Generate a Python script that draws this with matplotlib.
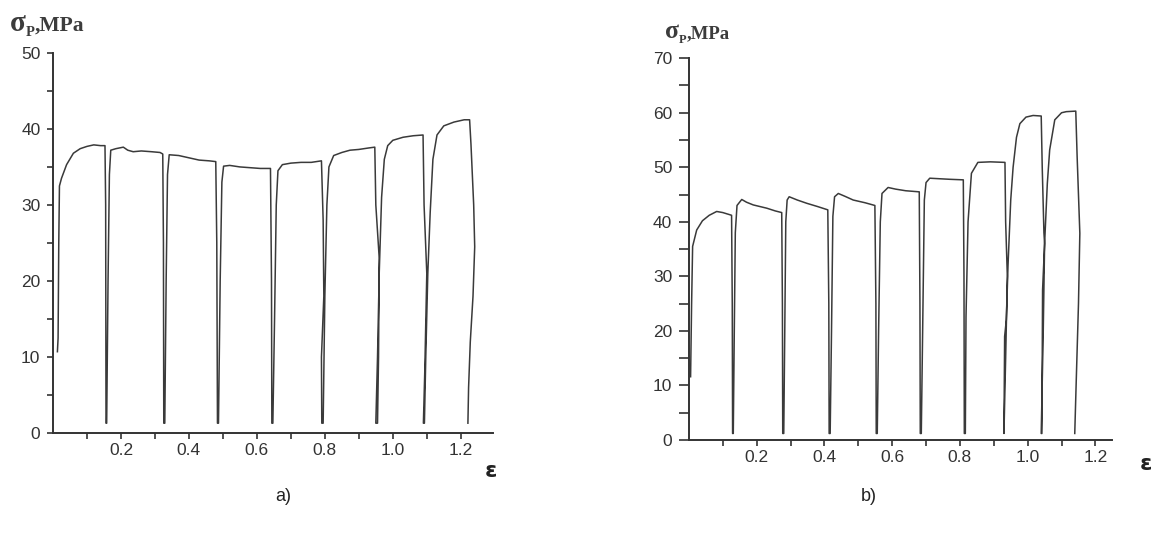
import matplotlib
matplotlib.use("Agg")
import matplotlib.pyplot as plt
from matplotlib.ticker import MultipleLocator, FixedLocator

# ---- traced data: panel a) ----
eps_a = [0.013, 0.015, 0.017, 0.019, 0.025, 0.04, 0.06, 0.08, 0.10, 0.12, 0.14, 0.153,
         0.155, 0.156,
         0.158, 0.162, 0.166, 0.17, 0.185, 0.207, 0.22, 0.236, 0.26, 0.29, 0.315, 0.323,
         0.325, 0.326,
         0.329, 0.333, 0.337, 0.342, 0.37, 0.40, 0.43, 0.46, 0.479,
         0.482, 0.484,
         0.487, 0.492, 0.497, 0.502, 0.52, 0.55, 0.58, 0.61, 0.64,
         0.643, 0.644,
         0.647, 0.652, 0.657, 0.662, 0.675, 0.70, 0.73, 0.76, 0.79,
         0.795, 0.797, 0.79, 0.791,
         0.795, 0.80, 0.806, 0.812, 0.826, 0.85, 0.874, 0.90, 0.93, 0.947,
         0.95, 0.96, 0.958, 0.955,
         0.95, 0.955, 0.96, 0.967, 0.975, 0.985, 1.0, 1.03, 1.06, 1.089,
         1.092, 1.10, 1.094, 1.09,
         1.093, 1.097, 1.103, 1.11, 1.118, 1.13, 1.15, 1.18, 1.21, 1.226,
         1.23, 1.238, 1.241, 1.236, 1.228, 1.223, 1.221]
sig_a = [10.7, 12.5, 25.0, 32.5, 33.5, 35.3, 36.8, 37.4, 37.7, 37.9, 37.8, 37.8,
         30.0, 1.3,
         1.3, 20.0, 34.0, 37.2, 37.4, 37.6, 37.2, 37.0, 37.1, 37.0, 36.9, 36.7,
         25.0, 1.3,
         1.3, 20.0, 34.0, 36.6, 36.5, 36.2, 35.9, 35.8, 35.7,
         25.0, 1.3,
         1.3, 20.0, 33.0, 35.1, 35.2, 35.0, 34.9, 34.8, 34.8,
         20.0, 1.3,
         1.3, 15.0, 30.0, 34.5, 35.3, 35.5, 35.6, 35.6, 35.8,
         28.0, 18.0, 10.0, 1.3,
         1.3, 18.0, 30.0, 35.0, 36.5, 36.9, 37.2, 37.3, 37.5, 37.6,
         30.0, 23.0, 10.0, 1.3,
         1.3, 10.0, 21.0, 31.0, 36.0, 37.8, 38.5, 38.9, 39.1, 39.2,
         30.0, 21.0, 8.0, 1.3,
         1.3, 10.0, 21.0, 29.0, 36.0, 39.2, 40.4, 40.9, 41.2, 41.2,
         38.0, 30.0, 24.5, 18.0, 12.0, 6.0, 1.3]

# ---- traced data: panel b) ----
eps_b = [0.005, 0.008, 0.011, 0.023, 0.04, 0.06, 0.082, 0.10, 0.121, 0.126,
         0.128, 0.129,
         0.131, 0.134, 0.137, 0.142, 0.156, 0.17, 0.19, 0.21, 0.23, 0.255, 0.274,
         0.276, 0.277,
         0.280, 0.283, 0.286, 0.290, 0.296, 0.32, 0.348, 0.38, 0.41,
         0.413, 0.414,
         0.417, 0.421, 0.425, 0.43, 0.441, 0.46, 0.485, 0.52, 0.549,
         0.552, 0.553,
         0.556, 0.56, 0.565, 0.57, 0.588, 0.61, 0.64, 0.68,
         0.682, 0.683,
         0.686, 0.690, 0.695, 0.70, 0.711, 0.74, 0.77, 0.81,
         0.812, 0.813,
         0.816, 0.818, 0.824, 0.834, 0.853, 0.89, 0.933,
         0.935, 0.94, 0.935, 0.93,
         0.93, 0.932, 0.937, 0.942, 0.95, 0.957, 0.967, 0.977, 0.995, 1.016, 1.04,
         1.043, 1.048, 1.05, 1.046, 1.04,
         1.042, 1.044, 1.05, 1.058, 1.065, 1.08, 1.10, 1.114, 1.142,
         1.146, 1.154, 1.15, 1.143, 1.139]
sig_b = [11.6, 25.0, 35.5, 38.5, 40.2, 41.2, 41.9, 41.7, 41.3, 41.2,
         25.0, 1.2,
         1.2, 20.0, 38.0, 43.0, 44.1, 43.6, 43.1, 42.8, 42.5, 42.0, 41.7,
         25.0, 1.2,
         1.2, 20.0, 40.0, 44.0, 44.6, 44.0, 43.4, 42.8, 42.2,
         25.0, 1.2,
         1.2, 20.0, 41.0, 44.6, 45.2, 44.7, 44.0, 43.5, 43.0,
         25.0, 1.2,
         1.2, 20.0, 40.0, 45.2, 46.3, 46.0, 45.7, 45.5,
         25.0, 1.2,
         1.2, 20.0, 44.0, 47.2, 48.0, 47.9, 47.8, 47.7,
         30.0, 1.2,
         1.2, 22.6, 40.0, 48.9, 50.9, 51.0, 50.9,
         40.0, 30.0, 15.0, 1.2,
         1.2, 19.0, 22.0, 32.0, 44.0, 50.0, 55.5, 58.0, 59.2, 59.5, 59.4,
         50.0, 38.0, 36.0, 20.0, 1.2,
         1.2, 27.5, 36.0, 47.0, 53.2, 58.7, 60.0, 60.2, 60.3,
         52.0, 37.9, 25.0, 10.0, 1.2]

xticks_major = [0.2, 0.4, 0.6, 0.8, 1.0, 1.2]
xtick_labels = ["0.2", "0.4", "0.6", "0.8", "1.0", "1.2"]
captions = ["a)", "b)"]
ylabel_parts = ["σ", "P", ",MPa"]
xlabel = "ε"

fig = plt.figure(figsize=(11.52, 5.34), dpi=100)

axa = fig.add_axes([0.046, 0.189, 0.382, 0.712])
axb = fig.add_axes([0.598, 0.176, 0.367, 0.715])

specs = [
    (axa, eps_a, sig_a, 1.295, 50, 4),
    (axb, eps_b, sig_b, 1.248, 70, 7),
]
for ax, ex, sy, xmax, ymax, tl in specs:
    ax.plot(ex, sy, color='#3a3a3a', lw=1.1)
    ax.set_xlim(0, xmax)
    ax.set_ylim(0, ymax)
    for s in ['top', 'right']:
        ax.spines[s].set_visible(False)
    for s in ['left', 'bottom']:
        ax.spines[s].set_color('#333333')
        ax.spines[s].set_linewidth(1.4)
    ax.xaxis.set_major_locator(FixedLocator(xticks_major))
    ax.set_xticklabels(xtick_labels)
    ax.xaxis.set_minor_locator(FixedLocator([0.1, 0.3, 0.5, 0.7, 0.9, 1.1]))
    ax.yaxis.set_major_locator(MultipleLocator(10))
    ax.yaxis.set_minor_locator(MultipleLocator(5))
    ax.tick_params(axis='both', which='both', direction='out', color='#333333',
                   width=1.2, labelsize=12.5, labelcolor='#333333')
    ax.tick_params(axis='x', which='both', length=4, pad=3)
    ax.tick_params(axis='y', which='both', length=tl, pad=5)
    for lab in ax.get_xticklabels() + ax.get_yticklabels():
        lab.set_family('Liberation Sans')
    ax.set_facecolor('white')

fig.canvas.draw()
renderer = fig.canvas.get_renderer()


def compose_label(x_px, y_px, s1, s2, s3):
    # y_px: baseline position in pixels from top
    yb = 1 - y_px / 534.0
    t1 = fig.text(x_px / 1152.0, yb, ylabel_parts[0], fontsize=s1, family='Liberation Serif',
                  fontweight='bold', color='#3c3c3c', ha='left', va='baseline')
    bb = t1.get_window_extent(renderer)
    x2 = bb.x1 / 1152.0
    t2 = fig.text(x2, yb - 0.009, ylabel_parts[1], fontsize=s2, family='Liberation Serif',
                  fontweight='bold', color='#3c3c3c', ha='left', va='baseline')
    bb2 = t2.get_window_extent(renderer)
    x3 = bb2.x1 / 1152.0
    fig.text(x3, yb, ylabel_parts[2], fontsize=s3, family='Liberation Serif',
             fontweight='bold', color='#3c3c3c', ha='left', va='baseline')


compose_label(10, 31, 21, 10.5, 15.5)
compose_label(665, 38, 18.5, 9, 13.5)

fig.text(0.421, 0.118, xlabel, fontsize=16, family='DejaVu Sans', fontweight='bold',
         color='#222222', ha='left', va='center')
fig.text(0.989, 0.131, xlabel, fontsize=16, family='DejaVu Sans', fontweight='bold',
         color='#222222', ha='left', va='center')

fig.text(0.246, 0.071, captions[0], fontsize=13, family='Liberation Sans',
         color='#222222', ha='center', va='center')
fig.text(0.754, 0.071, captions[1], fontsize=13, family='Liberation Sans',
         color='#222222', ha='center', va='center')

fig.savefig('out.png', dpi=100, facecolor='white')
